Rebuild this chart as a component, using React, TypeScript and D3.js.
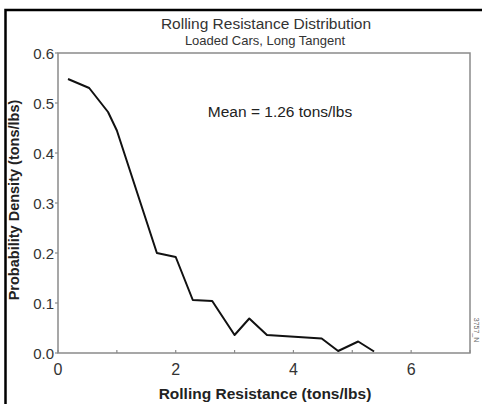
import * as d3 from "d3";
import { useEffect, useRef } from "react";

const WIDTH = 482;
const HEIGHT = 404;
const MARGIN = { top: 53, right: 12, bottom: 51, left: 58 };

// density curve
const resistance = [0.17, 0.53, 0.85, 1.0, 1.68, 2.0, 2.29, 2.62, 3.0, 3.25, 3.55, 4.48, 4.76, 5.1, 5.37];
const density = [0.548, 0.53, 0.482, 0.445, 0.2, 0.192, 0.106, 0.104, 0.036, 0.069, 0.036, 0.029, 0.004, 0.023, 0.003];

const xTicks = [0, 1, 2, 3, 4, 5, 6, 7];
const xLabels = [0, 2, 4, 6];
const yTicks = [0, 0.1, 0.2, 0.3, 0.4, 0.5, 0.6];

const FONT = "Liberation Sans, Arial, sans-serif";

export default function App() {
  const ref = useRef<SVGSVGElement>(null);

  useEffect(() => {
    const svg = d3.select(ref.current);
    svg.selectAll("*").remove();

    const iw = WIDTH - MARGIN.left - MARGIN.right;
    const ih = HEIGHT - MARGIN.top - MARGIN.bottom;

    const x = d3.scaleLinear().domain([0, 7]).range([MARGIN.left, MARGIN.left + iw]);
    const y = d3.scaleLinear().domain([0, 0.6]).range([MARGIN.top + ih, MARGIN.top]);

    svg.append("rect").attr("width", WIDTH).attr("height", HEIGHT).attr("fill", "#fff");

    // outer frame (top + left only)
    svg
      .append("path")
      .attr("d", `M5.5,${HEIGHT} V10 H${WIDTH}`)
      .attr("fill", "none")
      .attr("stroke", "#000")
      .attr("stroke-width", 2.5);

    // plot box
    svg
      .append("rect")
      .attr("x", x(0))
      .attr("y", y(0.6))
      .attr("width", x(7) - x(0))
      .attr("height", y(0) - y(0.6))
      .attr("fill", "none")
      .attr("stroke", "#8a8a8a")
      .attr("stroke-width", 1.5);

    // y ticks
    svg
      .append("g")
      .selectAll("line")
      .data(yTicks)
      .join("line")
      .attr("x1", x(0) - 3)
      .attr("x2", x(0))
      .attr("y1", (d) => y(d))
      .attr("y2", (d) => y(d))
      .attr("stroke", "#8a8a8a")
      .attr("stroke-width", 1.2);

    svg
      .append("g")
      .selectAll("text")
      .data(yTicks)
      .join("text")
      .attr("x", x(0) - 4)
      .attr("y", (d) => y(d) + 5.5)
      .attr("text-anchor", "end")
      .attr("fill", "#333")
      .style("font-family", FONT)
      .style("font-size", "15px")
      .text((d) => d.toFixed(1));

    // x ticks (inside)
    svg
      .append("g")
      .selectAll("line")
      .data(xTicks)
      .join("line")
      .attr("x1", (d) => x(d))
      .attr("x2", (d) => x(d))
      .attr("y1", y(0))
      .attr("y2", y(0) - 3)
      .attr("stroke", "#8a8a8a")
      .attr("stroke-width", 1.2);

    svg
      .append("g")
      .selectAll("text")
      .data(xLabels)
      .join("text")
      .attr("x", (d) => x(d))
      .attr("y", 375)
      .attr("text-anchor", "middle")
      .attr("fill", "#333")
      .style("font-family", FONT)
      .style("font-size", "16px")
      .text((d) => d);

    const line = d3
      .line<number>()
      .x((d) => x(d))
      .y((_, i) => y(density[i]));

    svg
      .append("path")
      .attr("d", line(resistance))
      .attr("fill", "none")
      .attr("stroke", "#111")
      .attr("stroke-width", 2)
      .attr("stroke-linejoin", "round");

    // titles
    svg
      .append("text")
      .attr("x", 266)
      .attr("y", 29)
      .attr("text-anchor", "middle")
      .attr("fill", "#333")
      .style("font-family", FONT)
      .style("font-size", "15.5px")
      .text("Rolling Resistance Distribution");

    svg
      .append("text")
      .attr("x", 265)
      .attr("y", 45)
      .attr("text-anchor", "middle")
      .attr("fill", "#333")
      .style("font-family", FONT)
      .style("font-size", "13px")
      .text("Loaded Cars, Long Tangent");

    svg
      .append("text")
      .attr("x", 280)
      .attr("y", 117)
      .attr("text-anchor", "middle")
      .attr("fill", "#222")
      .style("font-family", FONT)
      .style("font-size", "15.5px")
      .text("Mean = 1.26 tons/lbs");

    svg
      .append("text")
      .attr("x", 265)
      .attr("y", 399)
      .attr("text-anchor", "middle")
      .attr("fill", "#222")
      .style("font-family", FONT)
      .style("font-size", "15.5px")
      .style("font-weight", "bold")
      .text("Rolling Resistance (tons/lbs)");

    svg
      .append("text")
      .attr("transform", `translate(19, 200) rotate(-90)`)
      .attr("text-anchor", "middle")
      .attr("fill", "#222")
      .style("font-family", FONT)
      .style("font-size", "14.5px")
      .style("font-weight", "bold")
      .text("Probability Density (tons/lbs)");

    svg
      .append("text")
      .attr("transform", `translate(474, 330) rotate(90)`)
      .attr("text-anchor", "middle")
      .attr("fill", "#666")
      .style("font-family", FONT)
      .style("font-size", "7px")
      .text("3757_N");
  }, []);

  return (
    <svg
      ref={ref}
      width={WIDTH}
      height={HEIGHT}
      style={{ position: "absolute", left: 0, top: 0 }}
    />
  );
}
